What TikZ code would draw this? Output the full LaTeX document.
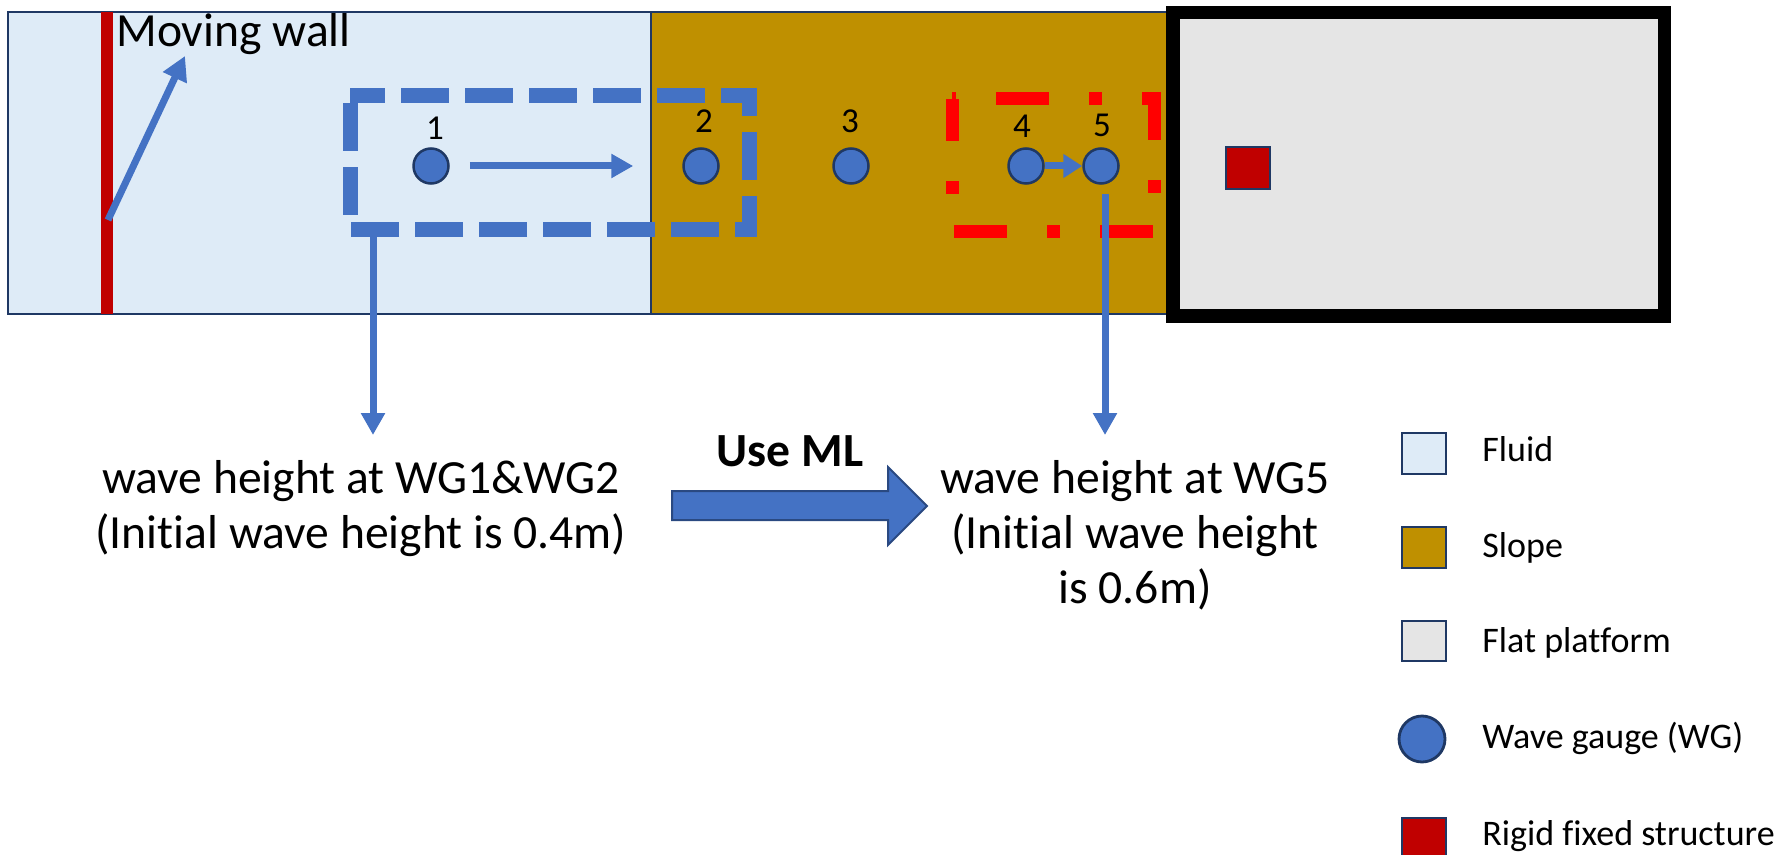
\documentclass[tikz,border=0pt]{standalone}
\usepackage{fontspec}
\setmainfont[Ligatures=NoCommon]{Carlito}
\usetikzlibrary{arrows.meta}
\definecolor{fluidc}{HTML}{DEEBF7}
\definecolor{slopec}{HTML}{BF9000}
\definecolor{flatc}{HTML}{E5E5E5}
\definecolor{rigidc}{HTML}{C00000}
\definecolor{wgblue}{HTML}{4472C4}
\definecolor{navy}{HTML}{1F3864}
\definecolor{brightred}{HTML}{FF0000}
\tikzset{
  gauge/.style={circle, fill=wgblue, draw=navy, line width=1.25pt, minimum size=17.5pt, inner sep=0pt},
  gnum/.style={font=\fontsize{17.5pt}{20pt}\selectfont, inner sep=0pt, anchor=base},
  maintext/.style={font=\fontsize{23.8pt}{28pt}\selectfont, inner sep=0pt, anchor=base},
  legtext/.style={font=\fontsize{18pt}{21pt}\selectfont, inner sep=0pt, anchor=base west},
  legbox/.style={draw=navy, line width=1.4pt},
  region/.style={draw=navy, line width=1pt},
  bluearrow/.style={draw=wgblue, line width=3.5pt, -{Triangle[length=11pt,width=11.5pt]}},
}
\begin{document}
\begin{tikzpicture}[x=0.5pt,y=-0.5pt]
\useasboundingbox (0,0) rectangle (1786,855);
% regions
\fill[fluidc] (8,12) rectangle (651,314);
\draw[region] (8,12) rectangle (651,314);
\fill[slopec] (651,12) rectangle (1167,314);
\draw[region] (651,12) rectangle (1167,314);
\draw[fill=flatc, draw=black, line width=6.75pt] (1173,12.5) rectangle (1664.5,316);
\draw[fill=rigidc, draw=navy, line width=1.4pt] (1226,147) rectangle (1270,189);
% moving wall
\draw[rigidc, line width=6pt] (107,12) -- (107,314);
\node[maintext, anchor=base west] (mw) at (116,47) {Moving wall};
\coordinate (wallfoot) at (108,220);
\coordinate (wallhead) at (185,56);
\draw[bluearrow, -{Triangle[length=12pt,width=12.5pt]}] (wallfoot) -- (wallhead);
% dashed boxes
\draw[wgblue, line width=7.5pt, dash pattern=on 24pt off 8pt, dash phase=6.5pt]
  (350,96) -- (749,96) -- (749,230) -- (350,230) -- cycle;
\draw[brightred, line width=6.5pt, dash pattern=on 26.5pt off 20pt on 6.5pt off 20pt, dash phase=51pt]
  (952,99) -- (1154,99) -- (1154,232) -- (952,232) -- cycle;
% gauges
\node[gauge] (g1) at (431,166) {};
\node[gauge] (g2) at (701,166) {};
\node[gauge] (g3) at (851,166) {};
\node[gauge] (g4) at (1026,166) {};
\node[gauge] (g5) at (1101,166) {};
\node[gnum] (n1) at (435,140) {1};
\node[gnum] (n2) at (704,133) {2};
\node[gnum] (n3) at (850,133) {3};
\node[gnum] (n4) at (1022,138) {4};
\node[gnum] (n5) at (1102,137) {5};
\draw[bluearrow, shorten <=10pt, shorten >=24.5pt] (g1) -- (g2);
\draw[bluearrow, -{Triangle[length=9.5pt,width=11.5pt]}] (g4) -- (g5);
% down arrows
\coordinate (boxfoot) at (373,237);
\coordinate (leftend) at (373,435);
\coordinate (g5foot) at (1105,194);
\coordinate (rightend) at (1105,435);
\draw[bluearrow] (boxfoot) -- (leftend);
\draw[bluearrow] (g5foot) -- (rightend);
% texts
\node[maintext] (lt1) at (361,493) {wave height at WG1\&WG2};
\node[maintext] (lt2) at (361,548) {(Initial wave height is 0.4m)};
\node[maintext] (rt1) at (1135,493) {wave height at WG5};
\node[maintext] (rt2) at (1135,548) {(Initial wave height};
\node[maintext] (rt3) at (1135,603) {is 0.6m)};
\node[maintext, font=\fontsize{23.8pt}{28pt}\selectfont\bfseries] (ml) at (790,466) {Use ML};
% block arrow
\draw[fill=wgblue, draw=navy!70!wgblue, line width=1pt]
  (672,491) -- (888,491) -- (888,467) -- (927,506) -- (888,545) -- (888,520) -- (672,520) -- cycle;
% legend
\draw[legbox, fill=fluidc] (1402,433) rectangle (1446,474);
\draw[legbox, fill=slopec] (1402,527) rectangle (1446,568);
\draw[legbox, fill=flatc] (1402,621) rectangle (1446,661);
\draw[legbox, fill=wgblue] (1422,739) circle (23);
\draw[legbox, fill=rigidc] (1402,818) rectangle (1446,859);
\node[legtext] (l1) at (1482,461) {Fluid};
\node[legtext] (l2) at (1482,557) {Slope};
\node[legtext] (l3) at (1482,652) {Flat platform};
\node[legtext] (l4) at (1482,748) {Wave gauge (WG)};
\node[legtext] (l5) at (1482,845) {Rigid fixed structure};
\end{tikzpicture}
\end{document}
